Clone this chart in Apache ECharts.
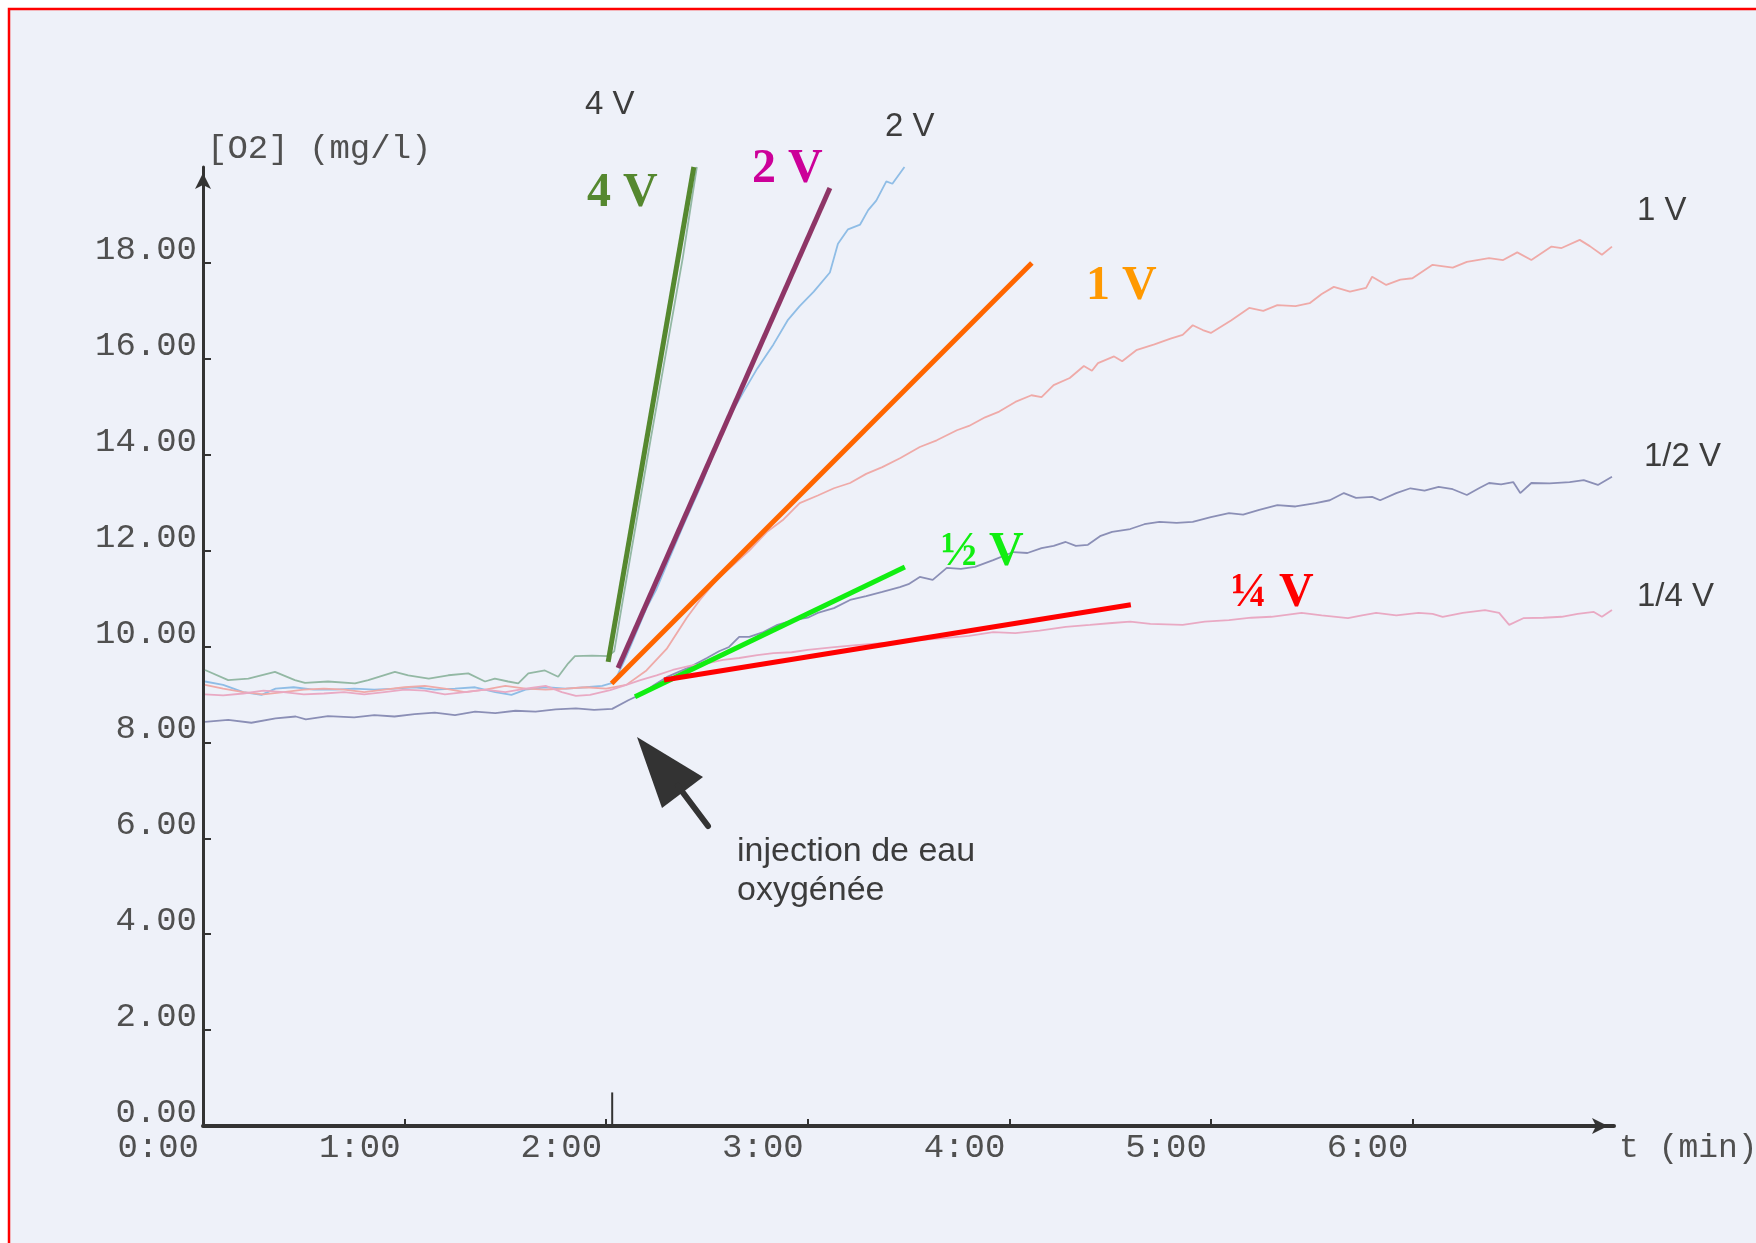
<!DOCTYPE html>
<html>
<head>
<meta charset="utf-8">
<title>[O2] (mg/l)</title>
<script src="https://cdn.jsdelivr.net/npm/echarts@6/dist/echarts.min.js"></script>
<style>
  html, body { margin: 0; padding: 0; background: #ffffff; overflow: hidden; }
  #myChart { width: 1756px; height: 1243px; }
</style>
</head>
<body>
<div id="myChart"></div>
<script>
// axes
const xTicks = [0, 1, 2, 3, 4, 5, 6];
const yTicks = [0, 2, 4, 6, 8, 10, 12, 14, 16, 18];

// measured curves [t (min), O2 (mg/l)]
const curve4V = [
  [0.01, 9.51], [0.125, 9.30], [0.225, 9.33], [0.357, 9.47], [0.456, 9.30], [0.506, 9.24],
  [0.62, 9.27], [0.754, 9.23], [0.82, 9.30], [0.952, 9.47], [1.018, 9.40], [1.12, 9.33],
  [1.217, 9.40], [1.316, 9.44], [1.399, 9.27], [1.448, 9.33], [1.514, 9.27], [1.564, 9.23],
  [1.614, 9.44], [1.696, 9.50], [1.762, 9.37], [1.812, 9.65], [1.845, 9.80], [1.93, 9.81],
  [2.01, 9.80], [2.04, 9.9], [2.08, 10.9], [2.15, 12.6], [2.22, 14.3], [2.30, 16.2],
  [2.38, 18.1], [2.45, 20.0]
];
const curve2V = [
  [0.01, 9.27], [0.1, 9.2], [0.2, 9.05], [0.29, 8.99], [0.36, 9.12], [0.45, 9.15], [0.55, 9.1],
  [0.65, 9.1], [0.75, 9.12], [0.85, 9.1], [0.95, 9.12], [1.05, 9.15], [1.15, 9.1], [1.25, 9.12],
  [1.35, 9.15], [1.45, 9.05], [1.53, 8.99], [1.6, 9.1], [1.7, 9.15], [1.8, 9.12], [1.9, 9.15],
  [1.98, 9.18], [2.04, 9.25], [2.1, 9.8], [2.15, 10.3], [2.2, 10.8], [2.25, 11.2], [2.31, 11.8],
  [2.38, 12.5], [2.475, 13.4], [2.55, 14.2], [2.6, 14.7], [2.68, 15.3], [2.75, 15.8],
  [2.83, 16.3], [2.9, 16.8], [2.96, 17.1], [3.03, 17.4], [3.11, 17.8], [3.15, 18.4],
  [3.2, 18.7], [3.26, 18.8], [3.3, 19.1], [3.34, 19.3], [3.39, 19.7], [3.42, 19.65], [3.48, 20.0]
];
const curve1V = [
  [0.01, 9.2], [0.1, 9.12], [0.2, 9.05], [0.3, 9.0], [0.4, 9.05], [0.5, 9.1], [0.6, 9.12],
  [0.7, 9.1], [0.8, 9.05], [0.9, 9.1], [1.0, 9.15], [1.1, 9.18], [1.2, 9.12], [1.3, 9.05],
  [1.4, 9.1], [1.5, 9.18], [1.6, 9.12], [1.7, 9.1], [1.8, 9.12], [1.9, 9.15], [2.0, 9.12],
  [2.1, 9.2], [2.2, 9.5], [2.3, 9.95], [2.4, 10.6], [2.465, 10.97], [2.55, 11.4], [2.63, 11.7],
  [2.71, 12.0], [2.8, 12.4], [2.88, 12.65], [2.96, 12.99], [3.05, 13.15], [3.13, 13.3],
  [3.21, 13.41], [3.29, 13.6], [3.37, 13.74], [3.46, 13.93], [3.556, 14.16], [3.64, 14.3],
  [3.74, 14.51], [3.8, 14.6], [3.88, 14.78], [3.95, 14.9], [4.03, 15.1], [4.11, 15.24],
  [4.16, 15.2], [4.22, 15.45], [4.3, 15.6], [4.37, 15.85], [4.41, 15.75], [4.44, 15.91],
  [4.52, 16.05], [4.56, 15.95], [4.63, 16.18], [4.72, 16.3], [4.8, 16.42], [4.86, 16.5],
  [4.91, 16.7], [4.96, 16.6], [5.0, 16.54], [5.1, 16.8], [5.19, 17.06], [5.26, 17.0],
  [5.33, 17.12], [5.42, 17.1], [5.49, 17.16], [5.55, 17.35], [5.61, 17.5], [5.69, 17.4],
  [5.77, 17.48], [5.8, 17.71], [5.87, 17.54], [5.94, 17.65], [6.0, 17.68], [6.1, 17.96],
  [6.2, 17.9], [6.27, 18.02], [6.38, 18.1], [6.45, 18.06], [6.52, 18.22], [6.59, 18.06],
  [6.69, 18.34], [6.74, 18.31], [6.83, 18.48], [6.88, 18.35], [6.94, 18.17], [6.99, 18.34]
];
const curveHalfV = [
  [0.01, 8.43], [0.125, 8.47], [0.24, 8.41], [0.36, 8.50], [0.46, 8.54], [0.51, 8.48],
  [0.62, 8.55], [0.75, 8.52], [0.85, 8.57], [0.95, 8.54], [1.05, 8.59], [1.15, 8.62],
  [1.25, 8.57], [1.35, 8.64], [1.45, 8.61], [1.55, 8.66], [1.65, 8.64], [1.75, 8.69],
  [1.85, 8.71], [1.94, 8.68], [2.03, 8.7], [2.11, 8.88], [2.17, 9.0], [2.24, 9.2], [2.30, 9.36],
  [2.36, 9.47], [2.415, 9.57], [2.5, 9.76], [2.56, 9.9], [2.61, 9.99], [2.66, 10.2], [2.71, 10.2],
  [2.78, 10.3], [2.85, 10.45], [2.93, 10.55], [3.0, 10.6], [3.05, 10.7], [3.13, 10.8],
  [3.21, 10.97], [3.29, 11.05], [3.37, 11.14], [3.457, 11.24], [3.5, 11.3], [3.556, 11.45],
  [3.62, 11.39], [3.69, 11.64], [3.76, 11.62], [3.83, 11.66], [3.92, 11.8], [4.02, 11.97],
  [4.09, 11.95], [4.16, 12.05], [4.22, 12.1], [4.28, 12.18], [4.33, 12.1], [4.39, 12.12],
  [4.45, 12.3], [4.51, 12.39], [4.6, 12.45], [4.67, 12.55], [4.745, 12.6], [4.83, 12.58],
  [4.91, 12.6], [5.0, 12.7], [5.09, 12.78], [5.16, 12.75], [5.24, 12.85], [5.33, 12.95],
  [5.42, 12.92], [5.52, 12.99], [5.59, 13.05], [5.66, 13.2], [5.72, 13.1], [5.80, 13.12],
  [5.84, 13.05], [5.92, 13.2], [5.99, 13.3], [6.06, 13.25], [6.13, 13.33], [6.2, 13.28],
  [6.27, 13.16], [6.33, 13.3], [6.38, 13.41], [6.44, 13.38], [6.5, 13.43], [6.535, 13.2],
  [6.59, 13.41], [6.68, 13.4], [6.78, 13.43], [6.85, 13.47], [6.92, 13.37], [6.99, 13.54]
];
const curveQuarterV = [
  [0.01, 9.0], [0.1, 8.98], [0.2, 9.02], [0.3, 9.08], [0.4, 9.05], [0.5, 9.0], [0.6, 9.02],
  [0.7, 9.05], [0.8, 9.0], [0.9, 9.05], [1.0, 9.1], [1.1, 9.08], [1.2, 9.0], [1.3, 9.05],
  [1.4, 9.1], [1.5, 9.05], [1.6, 9.12], [1.7, 9.18], [1.78, 9.05], [1.85, 8.97], [1.92, 8.99],
  [2.02, 9.09], [2.1, 9.2], [2.17, 9.3], [2.25, 9.4], [2.33, 9.51], [2.42, 9.6], [2.5, 9.65],
  [2.58, 9.72], [2.66, 9.76], [2.75, 9.82], [2.83, 9.86], [2.92, 9.88], [3.0, 9.93],
  [3.12, 9.98], [3.24, 10.03], [3.4, 10.08], [3.57, 10.14], [3.69, 10.18], [3.8, 10.22],
  [3.92, 10.3], [4.03, 10.28], [4.15, 10.33], [4.28, 10.41], [4.4, 10.45], [4.51, 10.49],
  [4.6, 10.52], [4.7, 10.47], [4.86, 10.45], [4.97, 10.52], [5.09, 10.55], [5.2, 10.6],
  [5.3, 10.62], [5.45, 10.7], [5.55, 10.65], [5.68, 10.59], [5.75, 10.65], [5.82, 10.7],
  [5.92, 10.65], [6.03, 10.7], [6.1, 10.68], [6.15, 10.62], [6.25, 10.7], [6.36, 10.76],
  [6.43, 10.7], [6.48, 10.45], [6.55, 10.59], [6.65, 10.6], [6.74, 10.62], [6.82, 10.68],
  [6.9, 10.72], [6.94, 10.62], [6.99, 10.76]
];

// initial slopes drawn by hand on the print
const tangent4V = [[2.01, 9.68], [2.435, 20.0]];
const tangent2V = [[2.059, 9.55], [3.11, 19.56]];
const tangent1V = [[2.027, 9.23], [4.112, 18.0]];
const tangentHalfV = [[2.143, 8.95], [3.482, 11.66]];
const tangentQuarterV = [[2.287, 9.3], [4.603, 10.87]];

// injection mark on the time axis
const injectionMark = [[2.03, 0], [2.03, 0.7]];

const monoFont = '"Liberation Mono", "Courier New", monospace';
const sansFont = '"Liberation Sans", Arial, sans-serif';
const serifFont = '"Liberation Serif", "Times New Roman", serif';

function thinLine(name, data, color) {
  return {
    name: name, type: 'line', data: data, showSymbol: false, symbol: 'none',
    lineStyle: { color: color, width: 1.8 }, z: 2
  };
}
function slopeLine(name, data, color) {
  return {
    name: name, type: 'line', data: data, showSymbol: false, symbol: 'none',
    lineStyle: { color: color, width: 5, cap: 'butt' }, z: 4
  };
}
function grayLabel(text, x, y) {
  return {
    type: 'text', x: x, y: y, z: 10,
    style: { text: text, fontFamily: sansFont, fontSize: 33, fill: '#3d3d3d', align: 'left', verticalAlign: 'middle' }
  };
}
function boldLabel(text, x, y, color) {
  return {
    type: 'text', x: x, y: y, z: 10,
    style: { text: text, fontFamily: serifFont, fontWeight: 'bold', fontSize: 48, fill: color, align: 'left', verticalAlign: 'middle' }
  };
}

let myChart = echarts.init(document.getElementById('myChart'));
myChart.setOption({
  animation: false,
  backgroundColor: 'transparent',
  grid: {
    left: 203, top: 167, right: 142, bottom: 117,
    containLabel: false, outerBoundsMode: 'none'
  },
  xAxis: {
    type: 'value', min: 0, max: 7,
    name: 't (min)', nameLocation: 'end', nameGap: 5, nameMoveOverlap: false,
    nameTextStyle: { fontFamily: monoFont, fontSize: 33, color: '#505050', align: 'left', verticalAlign: 'top', lineHeight: 26, padding: [9, 0, 0, 0] },
    splitLine: { show: false },
    axisLine: { show: true, lineStyle: { color: '#333', width: 4 }, symbol: ['none', 'arrow'], symbolSize: [12, 16], symbolOffset: [0, -6] },
    axisTick: { show: true, inside: true, length: 7, lineStyle: { color: '#333', width: 2 }, customValues: xTicks },
    axisLabel: {
      customValues: xTicks,
      formatter: function (v) { return v + ':00'; },
      fontFamily: monoFont, fontSize: 34, color: '#505050',
      align: 'right', verticalAlign: 'top', lineHeight: 26, margin: 9, padding: [0, 4, 0, 0]
    }
  },
  yAxis: {
    type: 'value', min: 0, max: 20,
    name: '[O2] (mg/l)', nameLocation: 'end', nameGap: 18, nameMoveOverlap: false,
    nameTextStyle: { fontFamily: monoFont, fontSize: 34, color: '#505050', align: 'left', verticalAlign: 'middle', padding: [0, 0, 0, 4] },
    splitLine: { show: false },
    axisLine: { show: true, lineStyle: { color: '#333', width: 3 }, symbol: ['none', 'arrow'], symbolSize: [12, 16], symbolOffset: [0, -6] },
    axisTick: { show: true, inside: true, length: 8, lineStyle: { color: '#333', width: 2 }, customValues: yTicks },
    axisLabel: {
      customValues: yTicks,
      formatter: function (v) { return v.toFixed(2); },
      fontFamily: monoFont, fontSize: 34, color: '#505050',
      align: 'right', verticalAlign: 'bottom', lineHeight: 26, margin: 6
    }
  },
  series: [
    thinLine('4 V', curve4V, '#93b8a4'),
    thinLine('2 V', curve2V, '#8fbde6'),
    thinLine('1 V', curve1V, '#efaaa8'),
    thinLine('1/2 V', curveHalfV, '#8b8fb6'),
    thinLine('1/4 V', curveQuarterV, '#e9a9c3'),
    {
      name: 'injection', type: 'line', data: injectionMark, showSymbol: false, symbol: 'none',
      lineStyle: { color: '#333', width: 2 }, z: 3
    },
    slopeLine('pente 1 V', tangent1V, '#ff6600'),
    slopeLine('pente 2 V', tangent2V, '#8e3566'),
    slopeLine('pente 4 V', tangent4V, '#55882f'),
    slopeLine('pente 1/2 V', tangentHalfV, '#11ee11'),
    slopeLine('pente 1/4 V', tangentQuarterV, '#ff0000')
  ],
  graphic: [
    // scanned page with its red frame
    {
      type: 'rect', z: -10, silent: true,
      shape: { x: 9, y: 9, width: 1800, height: 1300 },
      style: { fill: '#eef1f9', stroke: '#ff0000', lineWidth: 2.5 }
    },
    // arrow pointing at the injection time
    {
      type: 'polygon', z: 10,
      shape: { points: [[637, 737], [662, 808], [703, 777]] },
      style: { fill: '#333333' }
    },
    {
      type: 'line', z: 10,
      shape: { x1: 678, y1: 786, x2: 708, y2: 826 },
      style: { stroke: '#333333', lineWidth: 6, lineCap: 'round' }
    },
    {
      type: 'text', x: 737, y: 852, z: 10,
      style: { text: 'injection de eau', fontFamily: sansFont, fontSize: 34, fill: '#3c3c3c', align: 'left', verticalAlign: 'middle' }
    },
    {
      type: 'text', x: 737, y: 891, z: 10,
      style: { text: 'oxygénée', fontFamily: sansFont, fontSize: 34, fill: '#3c3c3c', align: 'left', verticalAlign: 'middle' }
    },
    grayLabel('4 V', 585, 105),
    grayLabel('2 V', 885, 127),
    grayLabel('1 V', 1637, 211),
    grayLabel('1/2 V', 1644, 457),
    grayLabel('1/4 V', 1637, 597),
    boldLabel('4 V', 587, 194, '#55882f'),
    boldLabel('2 V', 752, 170, '#cc0099'),
    boldLabel('1 V', 1086, 287, '#ff9900'),
    boldLabel('½ V', 941, 553, '#11ee11'),
    boldLabel('¼ V', 1231, 594, '#ff0000')
  ]
});
</script>
</body>
</html>
